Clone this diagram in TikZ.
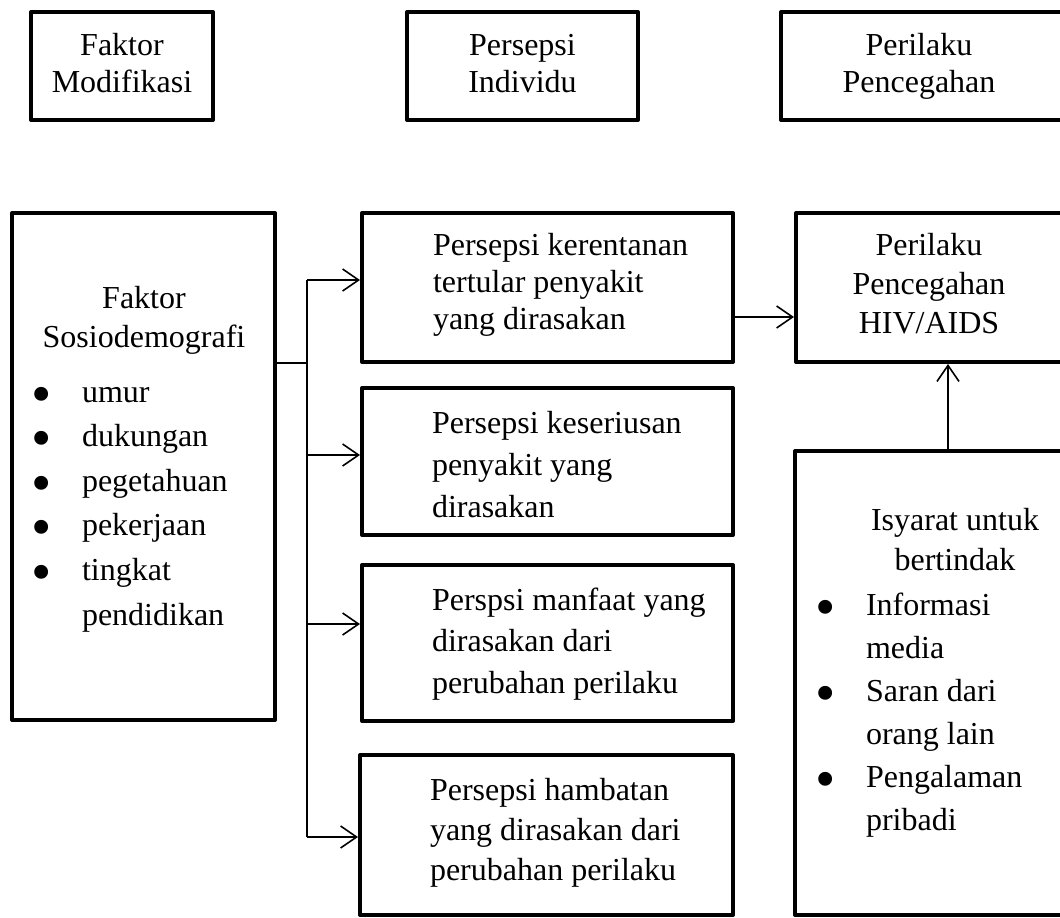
\documentclass[tikz,border=0pt]{standalone}
\usepackage{fontspec}
\setmainfont{Liberation Serif}
\usetikzlibrary{arrows.meta}
\newcommand\myfs[1]{\fontsize{32}{#1}\selectfont}
\newcommand\mybul{\makebox[80pt][c]{\smash{\fontsize{58}{58}\selectfont\raisebox{-11pt}{•}}}}
\newcommand\myind{\hspace*{80pt}}
\begin{document}
\begin{tikzpicture}[x=1pt,y=-1pt,
  box/.style={draw, line width=4pt, line join=round, rectangle, inner sep=0pt},
  conn/.style={line width=1.6pt},
  arr/.style={conn, -{Straight Barb[length=16pt,width=22pt]}},
  txt/.style={inner sep=0pt, outer sep=0pt, align=left, anchor=north west},
  ctxt/.style={inner sep=0pt, outer sep=0pt, align=center, anchor=north},
]
\clip (0,0) rectangle (1060,918);
\fill[white] (0,0) rectangle (1060,918);

% header boxes
\node[box, minimum width=182pt, minimum height=108pt] (tb1) at (122,66) {};
\node[box, minimum width=231pt, minimum height=108pt] (tb2) at (522.5,66) {};
\node[box, minimum width=294pt, minimum height=108pt] (tb3) at (928,66) {};
\node[ctxt, font=\myfs{37}] (tt1) at (122,29.1) {\strut Faktor\\Modifikasi};
\node[ctxt, font=\myfs{37}] (tt2) at (522.5,29.1) {\strut Persepsi\\Individu};
\node[ctxt, font=\myfs{37}] (tt3) at (919,29.1) {\strut Perilaku\\Pencegahan};

% main boxes
\node[box, minimum width=263pt, minimum height=507pt] (sosio) at (143.5,466.5) {};
\node[box, minimum width=371pt, minimum height=149pt] (p1) at (547.5,287.5) {};
\node[box, minimum width=371pt, minimum height=147pt] (p2) at (547.5,461.5) {};
\node[box, minimum width=371pt, minimum height=156pt] (p3) at (547.5,643) {};
\node[box, minimum width=373pt, minimum height=160pt] (p4) at (546.5,835) {};
\node[box, minimum width=279pt, minimum height=149pt] (hiv) at (935.5,287.5) {};
\node[box, minimum width=280pt, minimum height=464pt] (cue) at (935,683) {};

% texts
\node[ctxt, font=\myfs{39}] (ts1) at (144,280.7) {\strut Faktor\\Sosiodemografi};
\node[txt, font=\myfs{44.6}] (ts2) at (2,370.8) {\strut\mybul umur\\\mybul dukungan\\\mybul pegetahuan\\\mybul pekerjaan\\\mybul tingkat\\\myind pendidikan};
\node[txt, font=\myfs{37}] (tp1) at (433,229.1) {\strut Persepsi kerentanan\\tertular penyakit\\yang dirasakan};
\node[txt, font=\myfs{42}] (tp2) at (432,403.6) {\strut Persepsi keseriusan\\penyakit yang\\dirasakan};
\node[txt, font=\myfs{41.5}] (tp3) at (432,580.95) {\strut Perspsi manfaat yang\\dirasakan dari\\perubahan perilaku};
\node[txt, font=\myfs{40}] (tp4) at (430,772) {\strut Persepsi hambatan\\yang dirasakan dari\\perubahan perilaku};
\node[ctxt, font=\myfs{39}] (th) at (929,227.7) {\strut Perilaku\\Pencegahan\\HIV/AIDS};
\node[ctxt, font=\myfs{40}] (tc1) at (955,502) {\strut Isyarat untuk\\bertindak};
\node[txt, font=\myfs{43}] (tc2) at (786,584.9) {\strut\mybul Informasi\\\myind media\\\mybul Saran dari\\\myind orang lain\\\mybul Pengalaman\\\myind pribadi};

% connectors
\coordinate (j) at (307,363);
\coordinate (jt) at (307,280);
\coordinate (j2) at (307,455);
\coordinate (j3) at (307,624);
\coordinate (jb) at (307,837);
\coordinate (ya) at (0,317);
\coordinate (xa) at (948,0);
\draw[conn] (j -| sosio.east) -- (j);
\draw[conn] (jt) -- (jb);
\draw[arr] (jt) -- (jt -| p1.west);
\draw[arr] (j2) -- (j2 -| p2.west);
\draw[arr] (j3) -- (j3 -| p3.west);
\draw[arr] (jb) -- (jb -| p4.west);
\draw[arr] (p1.east |- ya) -- (hiv.west |- ya);
\draw[arr] (cue.north -| xa) -- (hiv.south -| xa);
\end{tikzpicture}
\end{document}
